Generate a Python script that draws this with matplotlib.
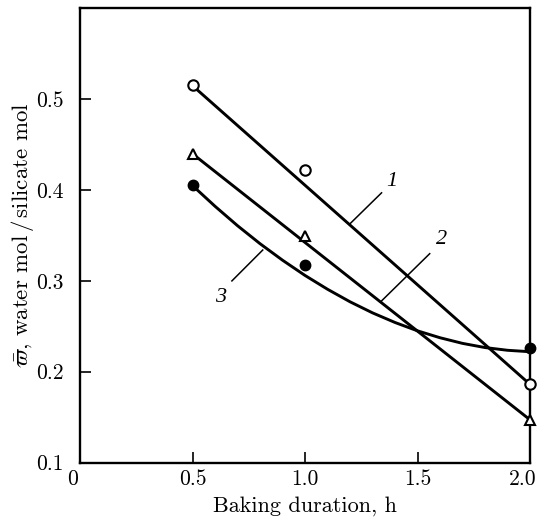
import matplotlib
matplotlib.use("Agg")
import matplotlib.pyplot as plt
import matplotlib.transforms as mtransforms

plt.rcParams['font.family'] = 'cmr10'
plt.rcParams['mathtext.fontset'] = 'cm'
plt.rcParams['axes.formatter.use_mathtext'] = True

# measured points
x_pts = [0.5, 1.0, 2.0]
open_circ = [0.516, 0.422, 0.187]
triangles = [0.440, 0.349, 0.147]
filled_circ = [0.406, 0.318, 0.226]

# straight lines 1 and 2 (end points)
line1_x = [0.5, 2.0]
line1_y = [0.515, 0.186]
line2_x = [0.5, 2.0]
line2_y = [0.440, 0.147]

# curve 3
curve3_x = [0.5, 0.6, 0.7, 0.8, 0.9, 1.0, 1.1, 1.2, 1.3, 1.4, 1.5, 1.6, 1.7, 1.8, 1.9, 2.0]
curve3_y = [0.4050, 0.3822, 0.3608, 0.3410, 0.3228, 0.3060, 0.2908, 0.2770, 0.2648, 0.2542,
            0.2450, 0.2374, 0.2312, 0.2266, 0.2236, 0.2220]

x_ticks = [0, 0.5, 1.0, 1.5, 2.0]
x_ticklabels = ['0', '0.5', '1.0', '1.5', '2.0']
y_ticks = [0.1, 0.2, 0.3, 0.4, 0.5]
y_ticklabels = ['0.1', '0.2', '0.3', '0.4', '0.5']

fig = plt.figure(figsize=(5.42, 5.18), dpi=100)
ax = fig.add_axes([0.1476, 0.1071, 0.8304, 0.8765])

lw = 2.1
ax.plot(line1_x, line1_y, color='black', lw=lw, zorder=2)
ax.plot(line2_x, line2_y, color='black', lw=lw, zorder=2)
ax.plot(curve3_x, curve3_y, color='black', lw=lw, zorder=2, solid_joinstyle='round')

ms = 7.5
ax.plot(x_pts, open_circ, 'o', ms=ms, mfc='white', mec='black', mew=1.5, zorder=3, clip_on=False)
ax.plot(x_pts, triangles, '^', ms=ms, mfc='white', mec='black', mew=1.5, zorder=3, clip_on=False)
ax.plot(x_pts, filled_circ, 'o', ms=ms, mfc='black', mec='black', zorder=3, clip_on=False)

# curve labels with leader lines
leaders = [((1.200, 0.363), (1.340, 0.397), (1.385, 0.409), '1'),
           ((1.336, 0.277), (1.554, 0.330), (1.605, 0.346), '2'),
           ((0.812, 0.334), (0.675, 0.300), (0.626, 0.282), '3')]
for start, end, lab, txt in leaders:
    ax.plot([start[0], end[0]], [start[1], end[1]], color='black', lw=1.1)
    ax.text(lab[0], lab[1], txt, fontsize=16, family='Liberation Serif', style='italic',
            ha='center', va='center')

ax.set_xlim(0, 2.0)
ax.set_ylim(0.1, 0.6)
ax.set_xticks(x_ticks)
ax.set_xticklabels(x_ticklabels)
ax.set_yticks(y_ticks)
ax.set_yticklabels(y_ticklabels)
ax.tick_params(direction='in', length=8, width=1.2, labelsize=15.5, pad=5)
ax.tick_params(axis='y', pad=12)
for s in ax.spines.values():
    s.set_linewidth(1.7)

# nudge end labels like in the print
xl = ax.get_xticklabels()
for i in (0, -1):
    xl[i].set_transform(xl[i].get_transform() + mtransforms.ScaledTranslation(-7 / 100, 0, fig.dpi_scale_trans))

ax.set_xlabel('Baking duration, h', fontsize=16, labelpad=5)
ax.set_ylabel(r'$\bar{\varpi}$, water mol$\,$/$\,$silicate mol', fontsize=16.5, labelpad=0)

fig.savefig('out.png', dpi=100)
